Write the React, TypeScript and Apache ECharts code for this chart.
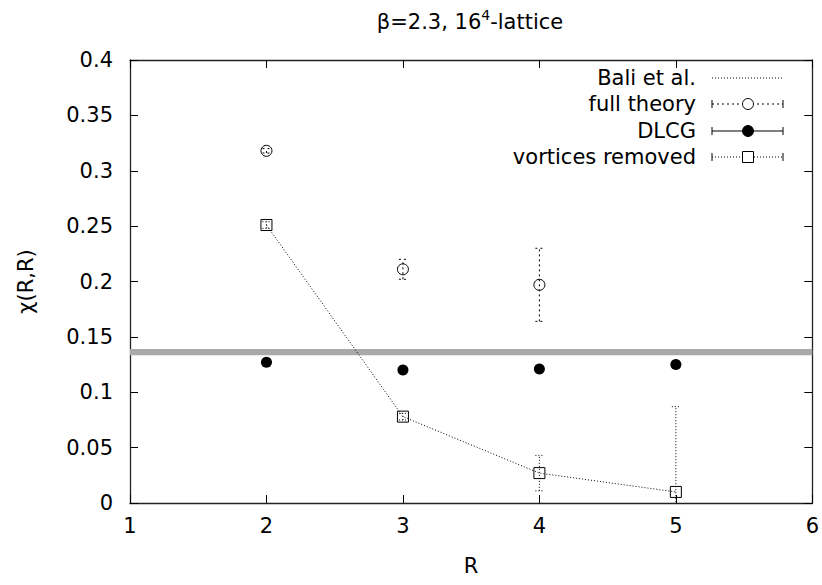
import React, { useEffect, useRef } from 'react';
import * as echarts from 'echarts';

const fullTheoryR = [2, 3, 4];
const fullTheory = [0.318, 0.211, 0.197];
const fullTheoryErr = [0.002, 0.009, 0.033];
const dlcgR = [2, 3, 4, 5];
const dlcg = [0.127, 0.12, 0.121, 0.125];
const dlcgErr = [0.001, 0.001, 0.001, 0.001];
const vortR = [2, 3, 4, 5];
const vort = [0.251, 0.078, 0.027, 0.01];
const vortErr = [0.003, 0.003, 0.016, 0.077];
const baliBand = [0.1335, 0.139];
const legendLabels = ['Bali et al.', 'full theory', 'DLCG', 'vortices removed'];

const FONT = 'DejaVu Sans';
const FS = 21;

function errData(xs: number[], ys: number[], es: number[]) {
  return xs.map((x, i) => [x, ys[i] - es[i], ys[i] + es[i]]);
}

function errSeries(name: string, data: number[][], dash: number[] | null, cap: number) {
  return {
    type: 'custom',
    name: name + ' err',
    clip: true,
    z: 3,
    data,
    encode: { x: 0, y: [1, 2] },
    renderItem: (params: any, api: any) => {
      const x = api.value(0);
      const p1 = api.coord([x, api.value(1)]);
      const p2 = api.coord([x, api.value(2)]);
      const st: any = { stroke: '#000', lineWidth: 1 };
      if (dash) st.lineDash = dash;
      return {
        type: 'group',
        children: [
          { type: 'line', shape: { x1: p1[0], y1: p1[1], x2: p2[0], y2: p2[1] }, style: st },
          { type: 'line', shape: { x1: p1[0] - cap, y1: p1[1], x2: p1[0] + cap, y2: p1[1] }, style: st },
          { type: 'line', shape: { x1: p2[0] - cap, y1: p2[1], x2: p2[0] + cap, y2: p2[1] }, style: st },
        ],
      };
    },
  };
}

function legendGraphic() {
  const rowsY = [78, 104, 131, 157];
  const textRight = 696;
  const x1 = 712, x2 = 783, xm = 748;
  const els: any[] = [];
  const samples = [
    { dash: [1, 2], caps: false, sym: null },
    { dash: [2, 3], caps: true, sym: 'circle' },
    { dash: null, caps: true, sym: 'dot' },
    { dash: [1, 2], caps: true, sym: 'rect' },
  ];
  legendLabels.forEach((lab, i) => {
    const y = rowsY[i];
    const s = samples[i];
    els.push({
      type: 'text', x: textRight, y,
      style: { text: lab, font: `${FS}px "${FONT}"`, fill: '#000', align: 'right', verticalAlign: 'middle' },
    });
    const ls: any = { stroke: '#000', lineWidth: 1 };
    if (s.dash) ls.lineDash = s.dash;
    els.push({ type: 'line', shape: { x1, y1: y, x2, y2: y }, style: ls });
    if (s.caps) {
      els.push({ type: 'line', shape: { x1, y1: y - 4, x2: x1, y2: y + 4 }, style: { stroke: '#000', lineWidth: 1 } });
      els.push({ type: 'line', shape: { x1: x2, y1: y - 4, x2: x2, y2: y + 4 }, style: { stroke: '#000', lineWidth: 1 } });
    }
    if (s.sym === 'circle') {
      els.push({ type: 'circle', shape: { cx: xm, cy: y, r: 5.5 }, style: { fill: '#fff', stroke: '#000', lineWidth: 1 } });
    } else if (s.sym === 'dot') {
      els.push({ type: 'circle', shape: { cx: xm, cy: y, r: 5.5 }, style: { fill: '#000', stroke: '#000', lineWidth: 1 } });
    } else if (s.sym === 'rect') {
      els.push({ type: 'rect', shape: { x: xm - 5.5, y: y - 5.5, width: 11, height: 11 }, style: { fill: '#fff', stroke: '#000', lineWidth: 1 } });
    }
  });
  return els;
}

export default function App() {
  const ref = useRef<HTMLDivElement>(null);
  useEffect(() => {
    if (!ref.current) return;
    const chart = echarts.init(ref.current, null, { renderer: 'svg' });
    const axisCommon = {
      type: 'value',
      axisLine: { show: true, onZero: false, lineStyle: { color: '#222', width: 1.3 } },
      axisTick: { show: true, inside: true, length: 8, lineStyle: { color: '#000' } },
      splitLine: { show: false },
    };
    const labelStyle = { color: '#000', fontFamily: FONT, fontSize: FS };
    chart.setOption({
      animation: false,
      backgroundColor: '#fff',
      grid: { left: 130, right: 9, top: 60, bottom: 82, containLabel: false },
      xAxis: [
        {
          ...axisCommon,
          position: 'bottom',
          min: 1, max: 6, interval: 1,
          name: 'R', nameLocation: 'middle', nameGap: 52,
          nameTextStyle: labelStyle,
          axisLabel: { ...labelStyle, margin: 12 },
        },
        {
          ...axisCommon,
          position: 'top',
          min: 1, max: 6, interval: 1,
          axisLabel: { show: false },
        },
      ],
      yAxis: [
        {
          ...axisCommon,
          position: 'left',
          min: 0, max: 0.4, interval: 0.05,
          name: 'χ(R,R)', nameLocation: 'middle', nameGap: 94, nameRotate: 90,
          nameTextStyle: labelStyle,
          axisLabel: { ...labelStyle, margin: 17 },
        },
        {
          ...axisCommon,
          position: 'right',
          min: 0, max: 0.4, interval: 0.05,
          axisLabel: { show: false },
        },
      ],
      graphic: [
        {
          type: 'text', x: 470, y: 20,
          style: {
            text: '{a|β=2.3, 16}{s|4}{a|-lattice}',
            align: 'center', verticalAlign: 'middle',
            rich: {
              a: { font: `${FS}px "${FONT}"`, fill: '#000', verticalAlign: 'bottom' },
              s: { font: `14px "${FONT}"`, fill: '#000', verticalAlign: 'top', padding: [0, 0, 10, 0] },
            },
          },
        },
        ...legendGraphic(),
      ],
      series: [
        {
          type: 'line',
          name: 'Bali et al.',
          data: [],
          markArea: {
            silent: true,
            itemStyle: { color: '#a9a9a9', opacity: 1 },
            data: [[{ yAxis: baliBand[0] }, { yAxis: baliBand[1] }]],
          },
        },
        errSeries('full theory', errData(fullTheoryR, fullTheory, fullTheoryErr), [2, 3], 4),
        errSeries('DLCG', errData(dlcgR, dlcg, dlcgErr), null, 0),
        errSeries('vortices removed', errData(vortR, vort, vortErr), [1, 2], 4),
        {
          type: 'line',
          name: 'vortices removed',
          data: vortR.map((x, i) => [x, vort[i]]),
          symbol: 'rect', symbolSize: 11,
          lineStyle: { color: '#000', width: 1, type: [1, 2] },
          itemStyle: { color: 'rgba(0,0,0,0)', borderColor: '#000', borderWidth: 1, opacity: 1 },
          z: 4,
        },
        {
          type: 'scatter',
          name: 'full theory',
          data: fullTheoryR.map((x, i) => [x, fullTheory[i]]),
          symbol: 'circle', symbolSize: 11,
          itemStyle: { color: 'rgba(0,0,0,0)', borderColor: '#000', borderWidth: 1, opacity: 1 },
          z: 4,
        },
        {
          type: 'scatter',
          name: 'DLCG',
          data: dlcgR.map((x, i) => [x, dlcg[i]]),
          symbol: 'circle', symbolSize: 11,
          itemStyle: { color: '#000', opacity: 1 },
          z: 4,
        },
      ],
    });
    return () => chart.dispose();
  }, []);
  return <div ref={ref} style={{ position: 'fixed', left: 0, top: 0, width: 822, height: 585 }} />;
}
